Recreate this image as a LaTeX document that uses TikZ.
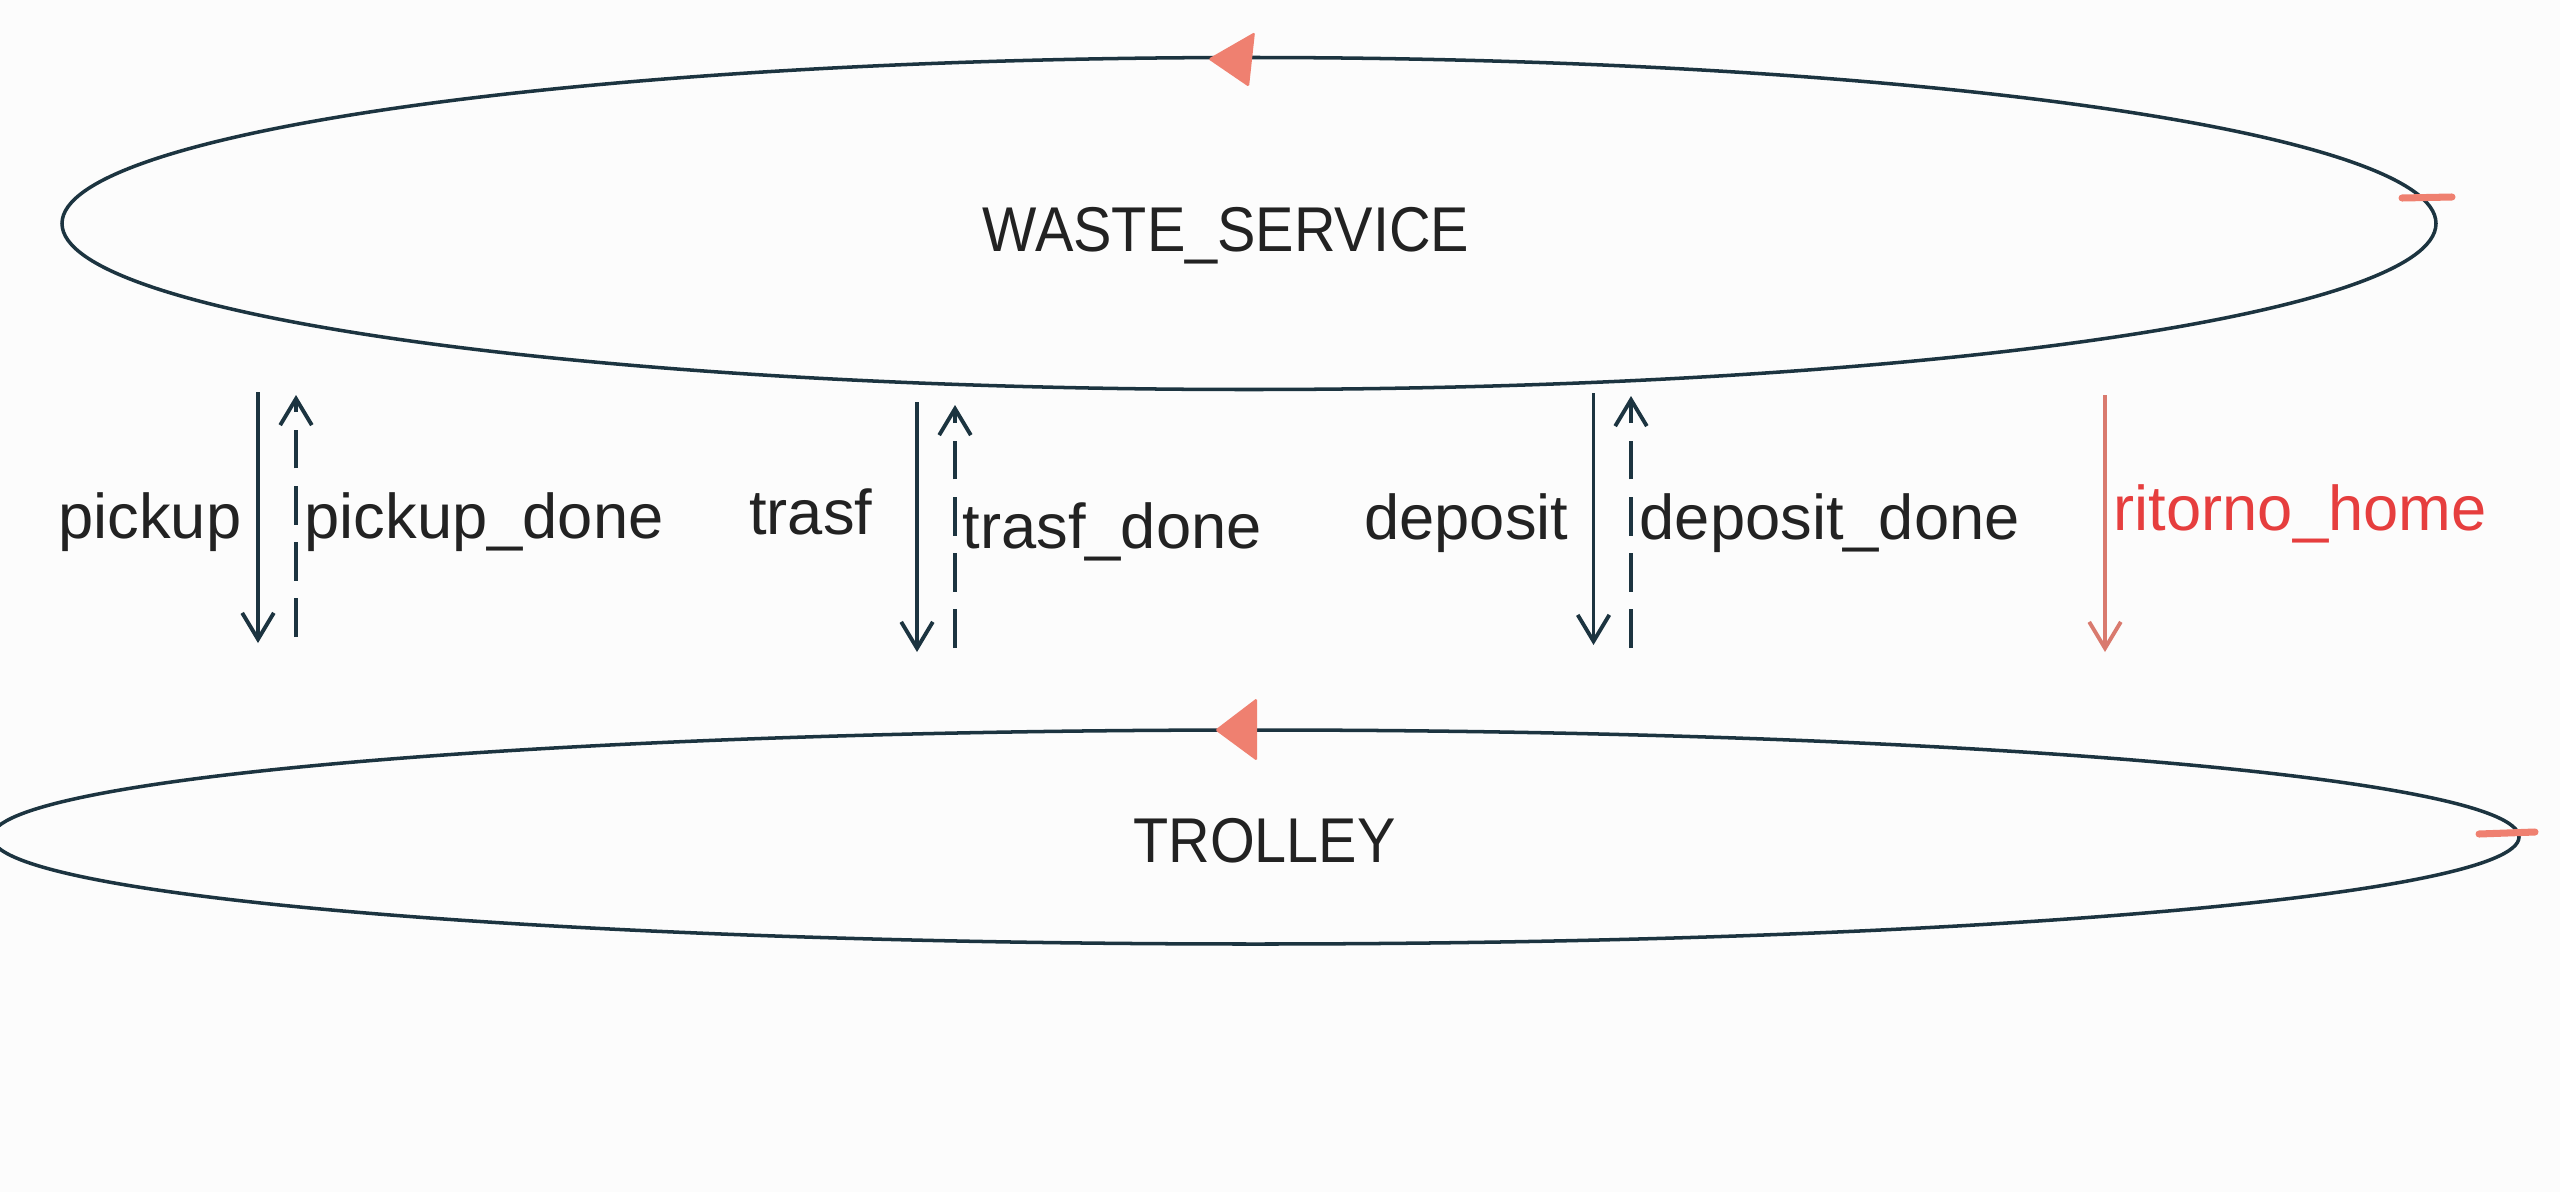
\documentclass[tikz,border=0pt]{standalone}
\usepackage{fontspec}
\setmainfont{Liberation Sans}
\newfontfamily\namefont{Liberation Sans}[FakeStretch=0.91]
\usetikzlibrary{arrows.meta, shapes.geometric}

\definecolor{inkblue}{HTML}{1C3440}
\definecolor{inktext}{HTML}{222222}
\definecolor{inkred}{HTML}{E63E3E}
\definecolor{salmon}{HTML}{EF8070}
\definecolor{salmonline}{HTML}{D97A6E}
\definecolor{paper}{HTML}{FCFCFC}

\begin{document}
\begin{tikzpicture}[
	state/.style={draw=inkblue, line width=1pt, ellipse, inner sep=0pt},
	lbl/.style={text=inktext, font=\fontsize{18}{20}\selectfont, inner sep=0pt},
	call/.style={draw=inkblue, line width=1.1pt, -{Straight Barb[length=7.5pt, width=9pt]}},
	reply/.style={call, dash pattern=on 11pt off 5pt},
	redtick/.style={draw=salmon, line width=2pt, line cap=round}]
	\fill [paper] (0,0) rectangle (25.6,-11.92);
	\useasboundingbox (0,0) rectangle (25.6,-11.92);

	\node [state, minimum width=23.74cm, minimum height=3.32cm] (ws) at (12.49,-2.235) {};
	\node [state, minimum width=25.27cm, minimum height=2.14cm] (tr) at (12.555,-8.37) {};
	\node [lbl, anchor=base, font=\namefont\fontsize{18}{20}\selectfont] (wstext) at (12.26,-2.51) {WASTE\_SERVICE};
	\node [lbl, anchor=base, font=\namefont\fontsize{18}{20}\selectfont] (trtext) at (12.645,-8.62) {TROLLEY};

	% direction marks on the two loops
	\fill [salmon, rounded corners=0.5pt] (12.08,-0.59) -- (12.55,-0.32) -- (12.49,-0.87) -- cycle;
	\fill [salmon, rounded corners=0.5pt] (12.15,-7.30) -- (12.57,-6.98) -- (12.57,-7.61) -- cycle;
	\draw [redtick] (24.02,-1.98) -- (24.52,-1.97);
	\draw [redtick] (24.79,-8.34) -- (25.35,-8.32);

	\coordinate (pickA) at (2.58,-3.92);
	\coordinate (pickB) at (2.58,-6.43);
	\coordinate (pdoneA) at (2.96,-6.37);
	\coordinate (pdoneB) at (2.96,-3.95);
	\coordinate (trasfA) at (9.17,-4.02);
	\coordinate (trasfB) at (9.17,-6.52);
	\coordinate (tdoneA) at (9.55,-6.48);
	\coordinate (tdoneB) at (9.55,-4.05);
	\coordinate (depA) at (15.935,-3.93);
	\coordinate (depB) at (15.935,-6.45);
	\coordinate (ddoneA) at (16.31,-6.48);
	\coordinate (ddoneB) at (16.31,-3.96);
	\coordinate (homeA) at (21.05,-3.95);
	\coordinate (homeB) at (21.05,-6.52);

	\draw [call] (pickA) -- (pickB);
	\draw [reply] (pdoneA) -- (pdoneB);
	\draw [call] (trasfA) -- (trasfB);
	\draw [reply] (tdoneA) -- (tdoneB);
	\draw [call] (depA) -- (depB);
	\draw [reply] (ddoneA) -- (ddoneB);
	\draw [call, draw=salmonline] (homeA) -- (homeB);

	\node [lbl, anchor=base east] (pickup) at (2.42,-5.38) {pickup};
	\node [lbl, anchor=base west] (pickupdone) at (3.04,-5.38) {pickup\_done};
	\node [lbl, anchor=base east] (trasf) at (8.73,-5.34) {trasf};
	\node [lbl, anchor=base west] (trasfdone) at (9.62,-5.48) {trasf\_done};
	\node [lbl, anchor=base east] (deposit) at (15.69,-5.39) {deposit};
	\node [lbl, anchor=base west] (depositdone) at (16.39,-5.39) {deposit\_done};
	\node [lbl, anchor=base west, text=inkred] (home) at (21.13,-5.30) {ritorno\_home};
%	\draw [step=1] (0,0) grid (25.6,-11.92);
\end{tikzpicture}
\end{document}
